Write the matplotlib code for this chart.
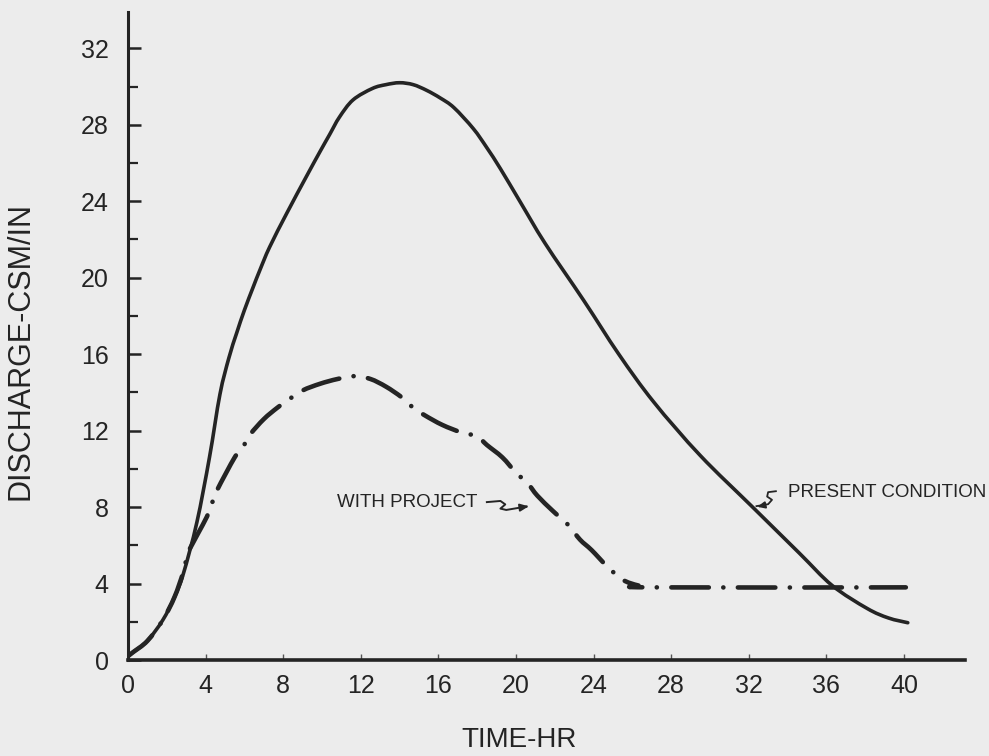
import matplotlib
matplotlib.use("Agg")
import matplotlib.pyplot as plt
from matplotlib.lines import Line2D
from matplotlib.path import Path
from matplotlib.patches import PathPatch

# ---- data (hours, discharge csm/in) ----
present_t = [0.0, 0.25, 1.0, 1.8, 2.4, 2.85, 3.55, 4.2, 4.74, 5.2, 5.6, 6.0,
             6.45, 6.8, 7.3, 8.2, 9.2, 9.9, 10.4, 10.9, 11.6, 12.6, 13.3, 14.0,
             14.7, 15.4, 16.1, 16.8, 17.8, 18.5, 19.2, 20.2, 21.5, 23.5, 25.3,
             27.1, 29.5, 32.2, 34.6, 36.3, 38.1, 39.2, 40.2]
present_q = [0.2, 0.4, 1.0, 2.1, 3.3, 4.5, 7.2, 10.6, 13.9, 15.8, 17.1, 18.3,
             19.5, 20.4, 21.6, 23.4, 25.3, 26.6, 27.5, 28.4, 29.3, 29.9, 30.1, 30.2,
             30.1, 29.8, 29.4, 28.9, 27.8, 26.8, 25.7, 24.0, 21.8, 18.8, 16.0,
             13.5, 10.7, 8.0, 5.6, 3.9, 2.7, 2.2, 1.95]

project_t = [0.0, 0.25, 1.0, 1.8, 2.4, 2.85, 3.1, 3.6, 4.07, 4.33, 4.6, 5.5,
             5.9, 6.3, 7.0, 7.7, 8.25, 9.0, 9.9, 10.8, 11.7, 12.5, 13.3, 14.1,
             14.7, 15.3, 16.2, 17.2, 18.0, 18.5, 19.3, 20.0, 20.6, 21.1, 21.9,
             22.7, 23.3, 23.9, 24.7, 25.5, 26.3, 27.0, 40.1]
project_q = [0.2, 0.4, 1.0, 2.1, 3.3, 4.6, 5.6, 6.6, 7.5, 8.2, 8.9, 10.6,
             11.1, 11.8, 12.6, 13.2, 13.6, 14.1, 14.45, 14.7, 14.85, 14.7, 14.3, 13.75,
             13.2, 12.8, 12.3, 11.9, 11.7, 11.25, 10.6, 9.8, 9.25, 8.6, 7.8,
             7.06, 6.3, 5.75, 4.9, 4.2, 3.9, 3.8, 3.8]

x_ticks = [0, 4, 8, 12, 16, 20, 24, 28, 32, 36, 40]
y_ticks = [0, 4, 8, 12, 16, 20, 24, 28, 32]
y_minor = [2, 6, 10, 14, 18, 22, 26, 30]

# ---- styling ----
paper = "#ececec"
ink = "#242424"
font = ["Liberation Sans", "DejaVu Sans"]
plt.rcParams["font.family"] = font
plt.rcParams["lines.scale_dashes"] = False


def smooth_path(xs, ys):
    """Cubic Bezier path passing through every (x, y) point (Catmull-Rom tangents)."""
    pts = list(zip(xs, ys))
    n = len(pts)
    verts = [pts[0]]
    codes = [Path.MOVETO]
    for i in range(n - 1):
        p0 = pts[i - 1] if i > 0 else pts[i]
        p1 = pts[i]
        p2 = pts[i + 1]
        p3 = pts[i + 2] if i + 2 < n else pts[i + 1]
        c1 = (p1[0] + (p2[0] - p0[0]) / 6.0, p1[1] + (p2[1] - p0[1]) / 6.0)
        c2 = (p2[0] - (p3[0] - p1[0]) / 6.0, p2[1] - (p3[1] - p1[1]) / 6.0)
        verts += [c1, c2, p2]
        codes += [Path.CURVE4] * 3
    return Path(verts, codes)


fig = plt.figure(figsize=(9.89, 7.56), dpi=100, facecolor=paper)
ax = fig.add_axes([128 / 989, 96 / 756, 837 / 989, 648 / 756])
ax.set_facecolor(paper)
ax.set_xlim(0, 43.15)
ax.set_ylim(0, 33.9)
ax.set_autoscale_on(False)

for side in ("top", "right"):
    ax.spines[side].set_visible(False)
ax.spines["left"].set_linewidth(2.2)
ax.spines["bottom"].set_linewidth(2.6)
ax.spines["left"].set_color(ink)
ax.spines["bottom"].set_color(ink)

ax.set_xticks(x_ticks)
ax.set_yticks(y_ticks)
ax.set_yticks(y_minor, minor=True)
ax.tick_params(axis="y", which="major", direction="in", length=9, width=1.8,
               color=ink, pad=14, labelsize=18, labelcolor=ink)
ax.tick_params(axis="y", which="minor", direction="in", length=7, width=1.6,
               color=ink)
ax.tick_params(axis="x", which="major", direction="in", length=4, width=1.0,
               color="#555555", pad=10, labelsize=18, labelcolor=ink)

# present condition hydrograph
ax.add_patch(PathPatch(smooth_path(present_t, present_q), fill=False,
                       edgecolor=ink, lw=2.6, capstyle="round",
                       joinstyle="round", zorder=3))

# with-project hydrograph (dash-dot)
ax.add_patch(PathPatch(smooth_path(project_t, project_q), fill=False,
                       edgecolor=ink, lw=3.3,
                       linestyle=(4, (27, 10.4, 0.1, 10.4)),
                       capstyle="round", joinstyle="round", zorder=3))

ax.set_xlabel("TIME-HR", fontsize=20, color=ink)
ax.xaxis.set_label_coords(0.467, -0.103)
ax.set_ylabel("DISCHARGE-CSM/IN", fontsize=22, color=ink)
ax.yaxis.set_label_coords(-0.111, 0.477)

# curve labels with hand-drawn pointers
ax.text(10.75, 8.22, "WITH PROJECT", fontsize=13.5, color=ink,
        ha="left", va="center")
sq_x = [18.5, 19.2, 19.45, 19.2, 19.5, 20.55]
sq_y = [8.26, 8.32, 8.14, 7.92, 7.85, 8.03]
ax.add_line(Line2D(sq_x, sq_y, color=ink, lw=1.4, solid_joinstyle="round"))
ax.annotate("", xy=(20.8, 8.06), xytext=(20.1, 7.96),
            arrowprops=dict(arrowstyle="-|>,head_length=0.5,head_width=0.22",
                            color=ink, lw=1.4))

ax.text(34.0, 8.77, "PRESENT CONDITION", fontsize=13.5, color=ink,
        ha="left", va="center")
pc_x = [33.4, 33.0, 32.95, 33.2, 33.0, 32.4]
pc_y = [8.83, 8.78, 8.55, 8.38, 8.15, 8.05]
ax.add_line(Line2D(pc_x, pc_y, color=ink, lw=1.3, solid_joinstyle="round"))
ax.annotate("", xy=(32.3, 7.98), xytext=(32.9, 8.12),
            arrowprops=dict(arrowstyle="-|>,head_length=0.45,head_width=0.2",
                            color=ink, lw=1.3))

fig.savefig("out.png", dpi=100, facecolor=paper)
